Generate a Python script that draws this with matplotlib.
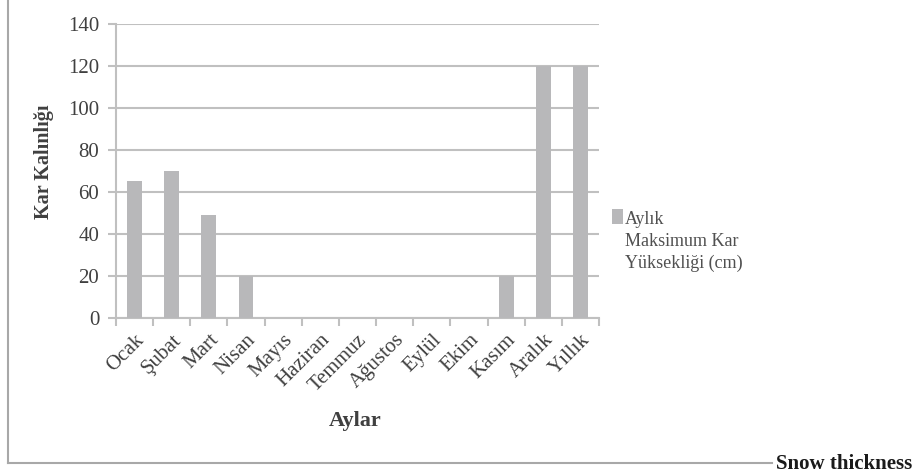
import matplotlib.pyplot as plt
from matplotlib.lines import Line2D
from matplotlib.ticker import FixedLocator

# Monthly maximum snow depth (cm)
months = ["Ocak", "Şubat", "Mart", "Nisan", "Mayıs", "Haziran", "Temmuz",
          "Ağustos", "Eylül", "Ekim", "Kasım", "Aralık", "Yıllık"]
snow_depth = [65, 70, 49, 20, 0, 0, 0, 0, 0, 0, 20, 120, 120]
y_ticks = [0, 20, 40, 60, 80, 100, 120, 140]

plt.rcParams["font.family"] = ["Liberation Serif", "DejaVu Serif"]
text_col = "#404040"
grid_col = "#c0c0c0"
bar_col = "#b8b8ba"

fig = plt.figure(figsize=(9.15, 4.73), dpi=100)
ax = fig.add_axes([0.1268, 0.3277, 0.5279, 0.6216])

x = list(range(len(months)))
ax.bar(x, snow_depth, width=0.4, color=bar_col,
       label="Aylık\nMaksimum Kar\nYüksekliği (cm)", zorder=3)

ax.set_xlim(-0.5, len(months) - 0.5)
ax.set_ylim(0, 140)
ax.set_yticks(y_ticks)
ax.grid(axis="y", color=grid_col, linewidth=1.5, zorder=0)
ax.tick_params(axis="y", length=6, width=1.5, color=grid_col,
               labelsize=15, labelcolor=text_col, pad=6)

# category labels at centres, tick marks at the boundaries
ax.set_xticks(x)
ax.set_xticklabels(months, rotation=45, ha="right", rotation_mode="anchor",
                   fontsize=15, color=text_col)
ax.tick_params(axis="x", which="major", length=0, pad=9)
ax.xaxis.set_minor_locator(FixedLocator([i - 0.5 for i in range(len(months) + 1)]))
ax.tick_params(axis="x", which="minor", length=6, width=1.5, color=grid_col)

for side in ["top", "right"]:
    ax.spines[side].set_visible(False)
for side in ["left", "bottom"]:
    ax.spines[side].set_color(grid_col)
    ax.spines[side].set_linewidth(1.5)

ax.set_ylabel("Kar Kalınlığı", fontsize=14.5, fontweight="bold", color=text_col)
ax.yaxis.set_label_coords(-0.128, 0.53)
ax.set_xlabel("Aylar", fontsize=16, fontweight="bold", color=text_col)
ax.xaxis.set_label_coords(0.495, -0.315)

leg = ax.legend(loc="upper left", bbox_to_anchor=(0.661, 0.57),
                bbox_transform=fig.transFigure, frameon=False, fontsize=13,
                handlelength=0.6, handleheight=0.9, handletextpad=0.1,
                borderaxespad=0)
for t in leg.get_texts():
    t.set_color("#505050")
    t.set_linespacing(1.4)
# put the swatch beside the first line of the wrapped label
for h in leg.legend_handles:
    h.set_y(h.get_y() + 1.4 * 13)

# frame lines around the figure panel
fig.add_artist(Line2D([8 / 915, 8 / 915], [1.0, 1 - 463 / 473],
                      transform=fig.transFigure, color="#a8a8a8", linewidth=1.5))
fig.add_artist(Line2D([8 / 915, 772 / 915], [1 - 463 / 473, 1 - 463 / 473],
                      transform=fig.transFigure, color="#a8a8a8", linewidth=1.5))
fig.text(912 / 915, 1 - 469 / 473, "Snow thickness", ha="right", va="baseline",
         fontsize=15, fontweight="bold", color="#1a1a1a")

fig.savefig("out.png", dpi=100, facecolor="white")
